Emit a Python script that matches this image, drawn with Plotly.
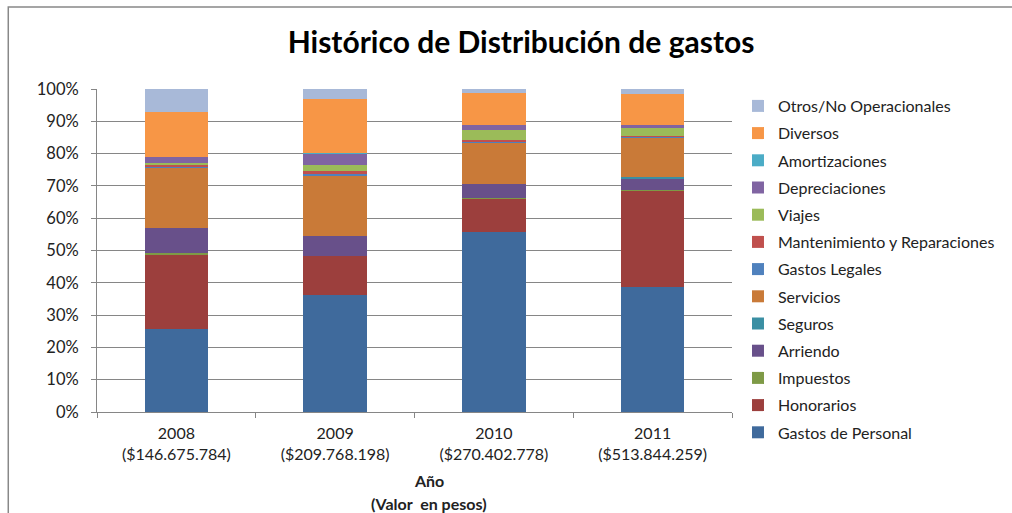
import plotly.graph_objects as go

years = ["2008<br>($146.675.784)", "2009<br>($209.768.198)", "2010<br>($270.402.778)", "2011<br>($513.844.259)"]

gastos_personal = [25.6, 36.1, 55.7, 38.6]
honorarios      = [23.3, 12.2, 10.5, 30.0]
impuestos       = [0.3, 0.0, 0.1, 0.1]
arriendo        = [7.7, 6.1, 4.2, 3.5]
seguros         = [0.0, 0.0, 0.0, 0.6]
servicios       = [18.7, 18.8, 12.8, 12.1]
gastos_legales  = [0.2, 0.4, 0.3, 0.3]
mantenimiento   = [0.8, 0.9, 0.5, 0.4]
viajes          = [0.5, 2.1, 3.1, 2.4]
depreciaciones  = [2.0, 3.4, 1.8, 0.9]
amortizaciones  = [0.0, 0.1, 0.0, 0.0]
diversos        = [13.7, 16.9, 9.8, 9.7]
otros           = [7.2, 3.0, 1.2, 1.4]

series = [
    ("Gastos de Personal", gastos_personal, "#3F6A9C"),
    ("Honorarios", honorarios, "#9C3F3D"),
    ("Impuestos", impuestos, "#7E9A46"),
    ("Arriendo", arriendo, "#68508A"),
    ("Seguros", seguros, "#3A8FA3"),
    ("Servicios", servicios, "#C97A38"),
    ("Gastos Legales", gastos_legales, "#4F81BD"),
    ("Mantenimiento y Reparaciones", mantenimiento, "#C0504D"),
    ("Viajes", viajes, "#9BBB59"),
    ("Depreciaciones", depreciaciones, "#8064A2"),
    ("Amortizaciones", amortizaciones, "#4BACC6"),
    ("Diversos", diversos, "#F79646"),
    ("Otros/No Operacionales", otros, "#A8B9D8"),
]

FONT = "Lato, 'Open Sans', sans-serif"
fig = go.Figure()
for i, (name, vals, col) in enumerate(series):
    fig.add_trace(go.Bar(
        x=years, y=[v / 100 for v in vals], name=name,
        marker=dict(color=col, line=dict(width=0)),
        width=0.4, legendgroup=f"g{i}", legendrank=1000 - i,
    ))

W, H = 1012, 513
L, R, T, B = 97, 278, 89, 101
pw, ph = W - L - R, H - T - B

def px(x):
    return (x - L) / pw

def py(y):
    return (H - B - y) / ph

fig.update_layout(
    width=W, height=H,
    margin=dict(l=L, r=R, t=T, b=B),
    barmode="stack",
    paper_bgcolor="white", plot_bgcolor="white",
    font=dict(family=FONT, size=16, color="#222222"),
    title=dict(text="<b>Histórico de Distribución de gastos</b>",
               x=521 / W, xanchor="center", y=1 - 42 / H, yanchor="middle",
               font=dict(size=30, color="#000000")),
    legend=dict(traceorder="grouped", x=px(740), xanchor="left", y=py(89), yanchor="top",
                font=dict(size=16, color="#222222"), tracegroupgap=3.4,
                itemwidth=30, bgcolor="rgba(0,0,0,0)", maxheight=480),
    xaxis=dict(showline=True, linecolor="#868686", linewidth=1,
               ticks="outside", tickson="boundaries", ticklen=5, tickcolor="#868686",
               tickfont=dict(size=16, color="#222222"), showgrid=False,
               ticklabelstandoff=7),
    yaxis=dict(range=[0, 1], tickformat=".0%", dtick=0.1,
               showline=True, linecolor="#868686", linewidth=1,
               ticks="outside", ticklen=5, tickcolor="#868686",
               gridcolor="#868686", gridwidth=1, zeroline=False,
               tickfont=dict(size=16.5, color="#222222"), ticklabelstandoff=9),
    shapes=[dict(type="rect", xref="paper", yref="paper",
                 x0=px(8), x1=px(1030), y0=py(530), y1=py(7),
                 line=dict(color="#888888", width=1.5), layer="below")],
    annotations=[
        dict(text="<b>Año</b>", xref="paper", yref="paper", x=px(430), y=py(480),
             xanchor="center", yanchor="middle", showarrow=False,
             font=dict(size=16, color="#222222")),
        dict(text="<b>(Valor  en pesos)</b>", xref="paper", yref="paper", x=px(430), y=py(503),
             xanchor="center", yanchor="middle", showarrow=False,
             font=dict(size=16, color="#222222")),
    ],
)

fig.write_html("out.html", config={"displayModeBar": False},
               post_script="document.body.style.margin='0';")
